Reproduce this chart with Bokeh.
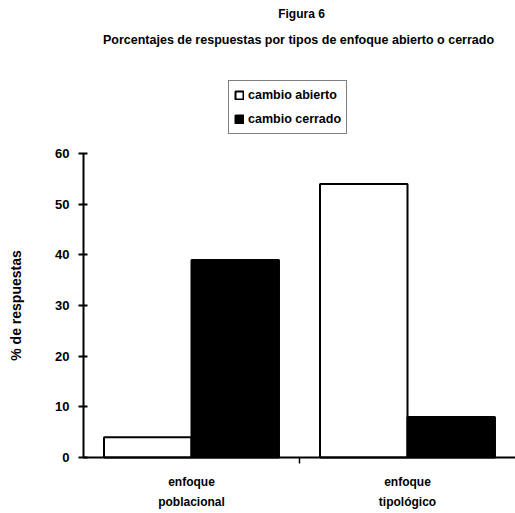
import numpy as np
from bokeh.plotting import figure
from bokeh.models import (ColumnDataSource, FixedTicker, Range1d, Label,
                          Legend, LegendItem)
from bokeh.transform import dodge
from bokeh.embed import file_html
from bokeh.resources import INLINE

# Data
categories = ["enfoque\npoblacional", "enfoque\ntipológico"]
abierto = [4, 54]
cerrado = [39, 8]
y_ticks = [0, 10, 20, 30, 40, 50, 60]

FONT = "Liberation Sans"
INK = "black"
W, H = 515, 513

# The frame fills the whole page; axes are pinned at the data origin so the
# titles and the legend can sit inside the frame above the bars.
left_px, bottom_px, top_px = 83, 56, 153
ncat = len(categories)
px_per_cat = (W - left_px) / ncat
px_per_unit = (H - bottom_px - top_px) / max(y_ticks)
x_range = Range1d(-left_px / px_per_cat, ncat)
y_range = Range1d(-bottom_px / px_per_unit, (H - bottom_px) / px_per_unit)

xpos = list(np.arange(ncat) + 0.5)
src = ColumnDataSource(dict(x=xpos, abierto=abierto, cerrado=cerrado))

p = figure(width=W, height=H, output_backend="svg", toolbar_location=None,
           x_range=x_range, y_range=y_range, min_border=0)
p.outline_line_color = None
p.xgrid.grid_line_color = None
p.ygrid.grid_line_color = None

bw = 0.405
r1 = p.vbar(x=dodge("x", -bw / 2, range=p.x_range), top="abierto", width=bw,
            bottom=0, source=src, fill_color="white", line_color=INK,
            line_width=2)
r2 = p.vbar(x=dodge("x", bw / 2, range=p.x_range), top="cerrado", width=bw,
            bottom=0, source=src, fill_color=INK, line_color=INK,
            line_width=2)

# Y axis
p.yaxis.fixed_location = 0
p.yaxis.bounds = (0, max(y_ticks))
p.yaxis.ticker = FixedTicker(ticks=y_ticks)
p.yaxis.axis_line_width = 2
p.yaxis.axis_line_color = INK
p.yaxis.major_tick_line_width = 2
p.yaxis.major_tick_line_color = INK
p.yaxis.major_tick_in = 4
p.yaxis.major_tick_out = 5
p.yaxis.minor_tick_line_color = None
p.yaxis.major_label_text_font = FONT
p.yaxis.major_label_text_font_style = "bold"
p.yaxis.major_label_text_font_size = "13px"
p.yaxis.major_label_text_color = INK
p.yaxis.major_label_standoff = 9
p.yaxis.axis_label = "% de respuestas"
p.yaxis.axis_label_text_font = FONT
p.yaxis.axis_label_text_font_style = "bold"
p.yaxis.axis_label_text_font_size = "14px"
p.yaxis.axis_label_text_color = INK
p.yaxis.axis_label_standoff = 28

# X axis: labels under each group, a tick between the groups
p.xaxis.fixed_location = 0
p.xaxis.bounds = (0, ncat)
p.xaxis.ticker = FixedTicker(ticks=xpos, minor_ticks=list(range(1, ncat)))
p.xaxis.major_label_overrides = {x: c for x, c in zip(xpos, categories)}
p.xaxis.axis_line_width = 2
p.xaxis.axis_line_color = INK
p.xaxis.major_tick_line_color = None
p.xaxis.minor_tick_line_width = 1.5
p.xaxis.minor_tick_line_color = INK
p.xaxis.minor_tick_in = 0
p.xaxis.minor_tick_out = 6
p.xaxis.major_label_text_font = FONT
p.xaxis.major_label_text_font_style = "bold"
p.xaxis.major_label_text_font_size = "12px"
p.xaxis.major_label_text_color = INK
p.xaxis.major_label_standoff = 11
p.xaxis.major_label_text_line_height = 1.45

# Titles
p.add_layout(Label(x=301, y=H - 13, x_units="screen", y_units="screen",
                   text="Figura 6", text_align="center", text_baseline="middle",
                   text_font=FONT, text_font_style="bold",
                   text_font_size="12px", text_color=INK))
p.add_layout(Label(x=298, y=H - 39, x_units="screen", y_units="screen",
                   text="Porcentajes de respuestas por tipos de enfoque abierto o cerrado",
                   text_align="center", text_baseline="middle",
                   text_font=FONT, text_font_style="bold",
                   text_font_size="12.5px", text_color=INK))

legend = Legend(items=[LegendItem(label="cambio abierto", renderers=[r1]),
                       LegendItem(label="cambio cerrado", renderers=[r2])],
                location=(228, H - 134), orientation="vertical",
                border_line_color=INK, border_line_width=1.5,
                label_text_font=FONT, label_text_font_style="bold",
                label_text_font_size="12.5px", label_text_color=INK,
                glyph_width=10, glyph_height=10,
                label_standoff=4, label_height=18, spacing=6, padding=5,
                margin=0, background_fill_alpha=1)
p.add_layout(legend, "center")

open("out.html", "w").write(file_html(p, INLINE))
